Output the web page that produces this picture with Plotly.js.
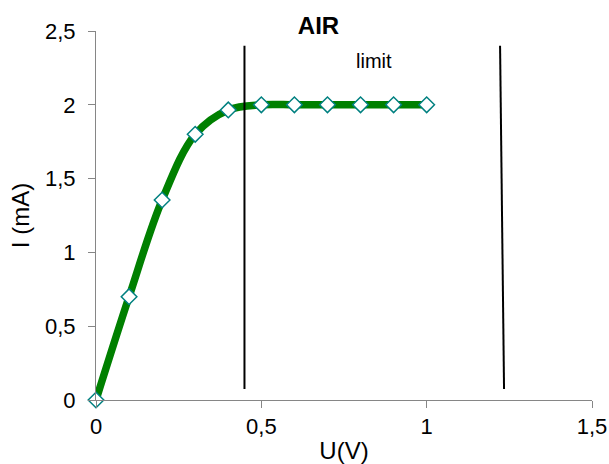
<!DOCTYPE html>
<html>
<head>
<meta charset="utf-8">
<script src="https://cdn.plot.ly/plotly-3.0.1.min.js"></script>
<style>html,body{margin:0;padding:0;background:#fff;}#chart{width:609px;height:464px;}</style>
</head>
<body>
<div id="chart"></div>
<script>
// Data
const voltage = [0, 0.1, 0.2, 0.3, 0.4, 0.5, 0.6, 0.7, 0.8, 0.9, 1.0];
const current = [0, 0.7, 1.355, 1.8, 1.965, 2, 2, 2, 2, 2, 2];
const limit1X = [0.449, 0.449];
const limit1Y = [0.075, 2.40];
const limit2X = [1.234, 1.222];
const limit2Y = [0.075, 2.40];
const limitLabel = {x: 0.84, y: 2.30, text: 'limit'};
const xTicks = [0, 0.5, 1, 1.5];
const yTicks = [0, 0.5, 1, 1.5, 2, 2.5];

const FONT = 'Liberation Sans, Arial, sans-serif';

const traces = [
  {
    x: voltage, y: current, type: 'scatter', mode: 'lines+markers',
    line: {color: '#008000', width: 7.5, shape: 'spline', smoothing: 1},
    marker: {symbol: 'diamond', size: 12, color: '#ffffff', line: {color: '#008080', width: 1.5}},
    cliponaxis: false, showlegend: false, hoverinfo: 'skip'
  },
  {
    x: limit1X, y: limit1Y, type: 'scatter', mode: 'lines',
    line: {color: '#000000', width: 2}, showlegend: false, hoverinfo: 'skip'
  },
  {
    x: limit2X, y: limit2Y, type: 'scatter', mode: 'lines',
    line: {color: '#000000', width: 2}, showlegend: false, hoverinfo: 'skip'
  }
];

const layout = {
  width: 609, height: 464,
  margin: {l: 96, r: 17, t: 31, b: 64, pad: 0},
  paper_bgcolor: '#ffffff', plot_bgcolor: '#ffffff',
  separators: ',.',
  font: {family: FONT, size: 22, color: '#000000'},
  title: {text: '<b>AIR</b>', font: {family: FONT, size: 24, color: '#000000'}, x: 0.523, xanchor: 'center', y: 0.944, yanchor: 'middle'},
  showlegend: false,
  xaxis: {
    range: [0, 1.5], tickvals: xTicks, ticktext: xTicks.map(v => String(v).replace('.', ',')),
    showgrid: false, zeroline: false, showline: true, linecolor: '#868686', linewidth: 1,
    ticks: 'outside', ticklen: 7, tickcolor: '#868686', tickwidth: 1,
    tickfont: {family: FONT, size: 22, color: '#000000'},
    title: {text: 'U(V)', font: {family: FONT, size: 24, color: '#000000'}, standoff: 8},
    automargin: false
  },
  yaxis: {
    range: [0, 2.5], tickvals: yTicks, ticktext: yTicks.map(v => String(v).replace('.', ',')),
    showgrid: false, zeroline: false, showline: true, linecolor: '#868686', linewidth: 1,
    ticks: 'outside', ticklen: 7, tickcolor: '#868686', tickwidth: 1, ticklabelstandoff: 8,
    tickfont: {family: FONT, size: 22, color: '#000000'},
    title: {text: 'I (mA)', font: {family: FONT, size: 24, color: '#000000'}, standoff: 8},
    automargin: false
  },
  annotations: [
    {x: limitLabel.x, y: limitLabel.y, xref: 'x', yref: 'y', text: limitLabel.text, showarrow: false,
     font: {family: FONT, size: 20, color: '#000000'}, xanchor: 'center', yanchor: 'middle'}
  ]
};

Plotly.newPlot('chart', traces, layout, {displayModeBar: false, staticPlot: true});
</script>
</body>
</html>
